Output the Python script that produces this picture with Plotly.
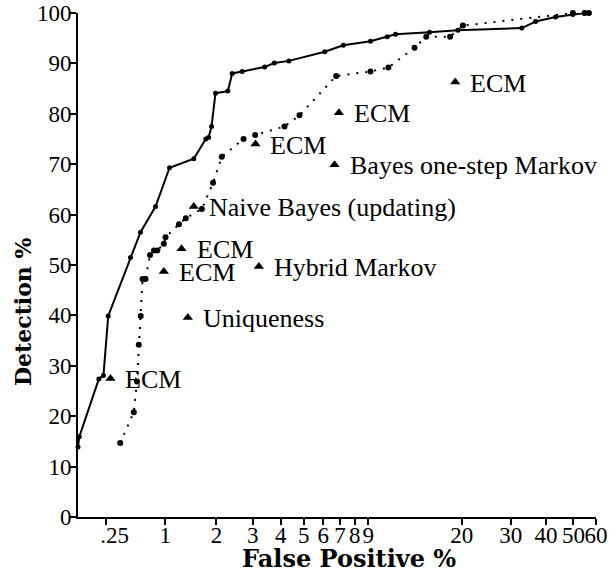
import numpy as np
import plotly.graph_objects as go

# ---- data (False Positive %, Detection %) ----
solid_fp = [0.0, 0.01, 0.18, 0.224, 0.271, 0.517, 0.642, 0.85, 1.068, 1.507, 1.757, 1.818, 1.886,
            1.978, 2.284, 2.40, 2.68, 3.40, 3.75, 4.33, 6.09, 7.21, 9.19, 10.64, 11.43, 15.28,
            19.38, 32.86, 36.76, 43.26, 49.77, 54.7, 56.66]
solid_det = [13.9, 15.9, 27.4, 28.1, 39.9, 51.5, 56.5, 61.6, 69.3, 71.1, 75.0, 75.3, 77.5,
             84.1, 84.5, 88.0, 88.4, 89.3, 90.1, 90.5, 92.3, 93.6, 94.4, 95.3, 95.8, 96.2,
             96.6, 97.0, 98.3, 99.2, 99.7, 100.0, 100.0]

dotted_fp = [0.398, 0.557, 0.597, 0.620, 0.645, 0.669, 0.709, 0.771, 0.828, 0.877, 0.976, 1.003,
             1.229, 1.353, 1.672, 1.921, 2.131, 2.72, 3.08, 4.15, 4.80, 6.76, 9.19, 10.74,
             13.45, 14.86, 18.16, 20.21, 49.77, 54.7, 56.66]
dotted_det = [14.7, 20.8, 26.9, 34.2, 39.9, 47.2, 47.2, 52.0, 52.9, 52.9, 54.2, 55.5,
              58.1, 59.3, 61.1, 66.3, 71.5, 75.0, 75.8, 77.5, 79.7, 87.5, 88.4, 89.2,
              93.1, 95.3, 95.3, 97.5, 100.0, 100.0, 100.0]

method_names = ["ECM", "Uniqueness", "ECM", "ECM", "Hybrid Markov", "Naive Bayes (updating)",
                "ECM", "Bayes one-step Markov", "ECM", "ECM"]
method_fp = [0.294, 1.391, 0.976, 1.274, 3.20, 1.507, 3.09, 6.66, 6.93, 18.96]
method_det = [27.5, 39.6, 48.7, 53.2, 49.7, 61.6, 74.0, 69.9, 80.2, 86.3]

x_tick_values = [0.25, 1, 2, 3, 4, 5, 6, 7, 8, 9, 20, 30, 40, 50, 60]
x_tick_labels = ["&nbsp;&nbsp;&nbsp;.25", "1", "2", "3", "4", "5", "6", "7", "8", "9",
                 "20", "30", "40", "50", "60"]
y_tick_values = list(range(0, 101, 10))

# axis is log(1 + FP%)
def shift(v):
    return [a + 1 for a in v]

SERIF = "Liberation Serif, Times New Roman, serif"

fig = go.Figure()
fig.add_trace(go.Scatter(x=shift(solid_fp), y=solid_det, mode="lines+markers",
                         line=dict(color="black", width=2),
                         marker=dict(color="black", size=5), cliponaxis=False,
                         showlegend=False))
fig.add_trace(go.Scatter(x=shift(dotted_fp), y=dotted_det, mode="lines+markers",
                         line=dict(color="black", width=2, dash="2px,7px"),
                         marker=dict(color="black", size=6), cliponaxis=False,
                         showlegend=False))
fig.add_trace(go.Scatter(x=shift(method_fp), y=method_det, mode="markers",
                         marker=dict(color="black", size=9, symbol="triangle-up"),
                         cliponaxis=False, showlegend=False))

for name, fp, det in zip(method_names, method_fp, method_det):
    fig.add_annotation(x=float(np.log10(fp + 1)), y=det, xref="x", yref="y",
                       text=name, showarrow=False, xanchor="left", yanchor="middle",
                       xshift=13, yshift=-1,
                       font=dict(family=SERIF, size=26, color="black"))

fig.add_annotation(x=0.523, y=-0.083, xref="paper", yref="paper",
                   text="<b>False Positive %</b>", showarrow=False,
                   xanchor="center", yanchor="middle",
                   font=dict(family="DejaVu Serif", size=24, color="black"))
fig.add_annotation(x=-0.106, y=0.407, xref="paper", yref="paper",
                   text="<b>Detection %</b>", showarrow=False, textangle=-90,
                   xanchor="center", yanchor="middle",
                   font=dict(family="DejaVu Serif", size=22, color="black"))

fig.update_xaxes(type="log", range=[0, np.log10(61)], automargin=False,
                 tickvals=shift(x_tick_values), ticktext=x_tick_labels, tickangle=0,
                 ticklabelstandoff=-10, ticklabeloverflow="allow",
                 showline=True, linewidth=2, linecolor="black", mirror=False,
                 ticks="outside", ticklen=6, tickwidth=2, tickcolor="black",
                 showgrid=False, zeroline=False,
                 tickfont=dict(family=SERIF, size=23, color="black"))
fig.update_yaxes(range=[0, 100], tickvals=y_tick_values, automargin=False,
                 ticklabelstandoff=-6, ticklabeloverflow="allow",
                 showline=True, linewidth=2, linecolor="black", mirror=False,
                 ticks="outside", ticklen=6, tickwidth=2, tickcolor="black",
                 showgrid=False, zeroline=False,
                 tickfont=dict(family=SERIF, size=23, color="black"))

fig.update_layout(template="none", width=611, height=582,
                  margin=dict(l=78, r=15, t=13, b=65),
                  plot_bgcolor="white", paper_bgcolor="white")

fig.write_html("out.html", config={"displayModeBar": False},
               post_script="document.body.style.margin='0';document.body.style.overflow='hidden';")
